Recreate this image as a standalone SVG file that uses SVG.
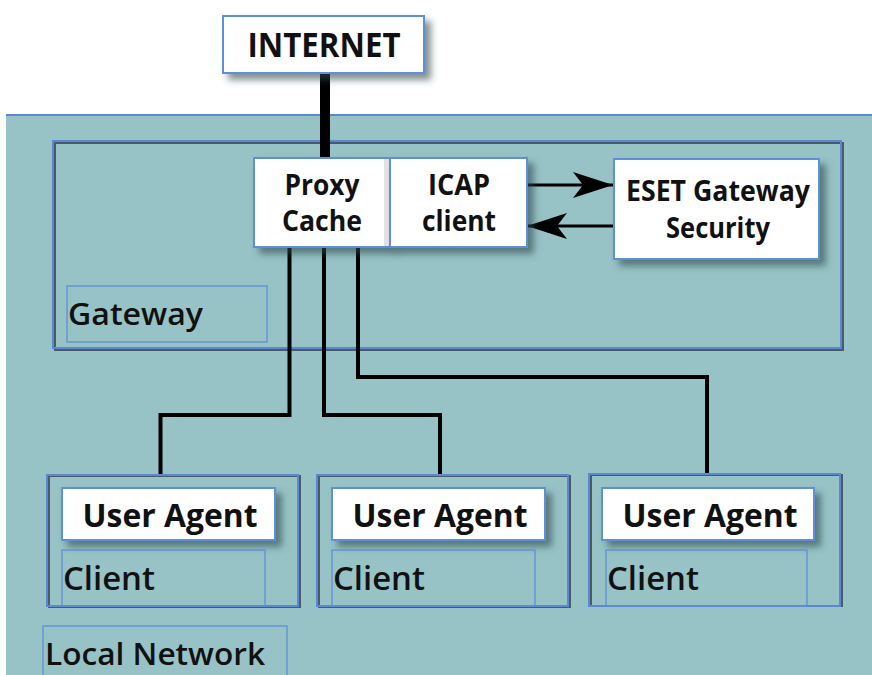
<svg xmlns="http://www.w3.org/2000/svg" width="872" height="675" viewBox="0 0 872 675">
<defs>
<style>
.frame{fill:none;stroke:#5a88d2;stroke-width:2}
.frameD{fill:none;stroke:#4a5a66;stroke-width:2}
.lbl{fill:none;stroke:#5f8fd8;stroke-width:1.3}
.box{fill:#ffffff;stroke:#5f8fd8;stroke-width:2}
.t{font-family:"Open Sans","Liberation Sans",sans-serif;font-weight:700;fill:#111;text-anchor:middle}
.tl{font-family:"Open Sans","Liberation Sans",sans-serif;font-weight:600;fill:#111}
.wire{fill:none;stroke:#000;stroke-width:4;stroke-linejoin:miter}
.arr{fill:none;stroke:#000;stroke-width:3}
</style>
<filter id="sh" x="-10%" y="-10%" width="130%" height="150%">
<feDropShadow dx="6" dy="6" stdDeviation="3.5" flood-color="#2f4a4c" flood-opacity="0.6"/>
</filter>
<marker id="ah" viewBox="0 0 40 26" refX="40" refY="13" markerWidth="40" markerHeight="26" markerUnits="userSpaceOnUse" orient="auto">
<path d="M0,0 L40,13 L0,26 L10,13 Z" fill="#000"/>
</marker>
</defs>
<rect x="0" y="0" width="872" height="675" fill="#ffffff"/>
<g id="local-network">
<rect x="6" y="115" width="868" height="562" fill="#97c3c6"/>
<line x1="6" y1="115" x2="872" y2="115" stroke="#5a88d2" stroke-width="2"/>
<rect x="43" y="626" width="244" height="60" class="lbl"/>
<text x="45" y="665" class="tl" font-size="31" textLength="220" lengthAdjust="spacingAndGlyphs">Local Network</text>
</g>
<g id="gateway">
<rect x="54" y="142" width="788" height="207" class="frameD" transform="translate(1,1)"/>
<rect x="53" y="141" width="788" height="207" class="frame"/>
<rect x="67" y="286" width="200" height="56" class="lbl"/>
<text x="68" y="325" class="tl" font-size="31" textLength="135" lengthAdjust="spacingAndGlyphs">Gateway</text>
</g>
<g id="connectors">
<line x1="325" y1="72" x2="325" y2="158" stroke="#000" stroke-width="10"/>
<polyline class="wire" points="289.5,246 289.5,415 160.5,415 160.5,475"/>
<polyline class="wire" points="324,246 324,415 440,415 440,475"/>
<polyline class="wire" points="358,246 358,377 707,377 707,474"/>
<line class="arr" x1="527" y1="185" x2="613" y2="185" marker-end="url(#ah)"/>
<line class="arr" x1="614" y1="226" x2="527" y2="226" marker-end="url(#ah)"/>
</g>
<g id="internet">
<rect x="223" y="16" width="201" height="57" class="box" filter="url(#sh)"/>
<text x="324" y="57" class="t" font-size="34" textLength="153" lengthAdjust="spacingAndGlyphs">INTERNET</text>
</g>
<g id="proxy-cache">
<rect x="254" y="158" width="136" height="89" class="box" filter="url(#sh)"/>
<rect x="384" y="159" width="5" height="87" fill="#e2e2e2"/>
<text x="322" y="195" class="t" font-size="28" textLength="75" lengthAdjust="spacingAndGlyphs">Proxy</text>
<text x="322" y="231" class="t" font-size="28" textLength="80" lengthAdjust="spacingAndGlyphs">Cache</text>
</g>
<g id="icap-client">
<rect x="390" y="158" width="137" height="89" class="box" filter="url(#sh)"/>
<text x="459" y="195" class="t" font-size="28" textLength="62" lengthAdjust="spacingAndGlyphs">ICAP</text>
<text x="459" y="231" class="t" font-size="28" textLength="74" lengthAdjust="spacingAndGlyphs">client</text>
</g>
<g id="eset">
<rect x="614" y="159" width="205" height="100" class="box" filter="url(#sh)"/>
<text x="718" y="201" class="t" font-size="28" textLength="184" lengthAdjust="spacingAndGlyphs">ESET Gateway</text>
<text x="718" y="238" class="t" font-size="28" textLength="104" lengthAdjust="spacingAndGlyphs">Security</text>
</g>
<g id="client-1">
<rect x="48" y="476" width="251" height="131" class="frameD" transform="translate(1,0)"/>
<rect x="47" y="475" width="251" height="131" class="frame"/>
<rect x="62" y="488" width="213" height="52" class="box" filter="url(#sh)"/>
<text x="170" y="527" class="t" font-size="32" textLength="175" lengthAdjust="spacingAndGlyphs">User Agent</text>
<rect x="62" y="550" width="203" height="56" class="lbl"/>
<text x="63" y="590" class="tl" font-size="32" textLength="92" lengthAdjust="spacingAndGlyphs">Client</text>
</g>
<g id="client-2">
<rect x="318" y="476" width="251" height="131" class="frameD" transform="translate(1,0)"/>
<rect x="317" y="475" width="251" height="131" class="frame"/>
<rect x="332" y="488" width="213" height="52" class="box" filter="url(#sh)"/>
<text x="440" y="527" class="t" font-size="32" textLength="175" lengthAdjust="spacingAndGlyphs">User Agent</text>
<rect x="332" y="550" width="203" height="56" class="lbl"/>
<text x="333" y="590" class="tl" font-size="32" textLength="92" lengthAdjust="spacingAndGlyphs">Client</text>
</g>
<g id="client-3">
<rect x="590" y="475" width="251" height="131" class="frameD" transform="translate(1,0)"/>
<rect x="589" y="474" width="251" height="132" class="frame"/>
<rect x="602" y="488" width="212" height="52" class="box" filter="url(#sh)"/>
<text x="710" y="527" class="t" font-size="32" textLength="175" lengthAdjust="spacingAndGlyphs">User Agent</text>
<rect x="606" y="550" width="201" height="56" class="lbl"/>
<text x="607" y="590" class="tl" font-size="32" textLength="92" lengthAdjust="spacingAndGlyphs">Client</text>
</g>
</svg>
